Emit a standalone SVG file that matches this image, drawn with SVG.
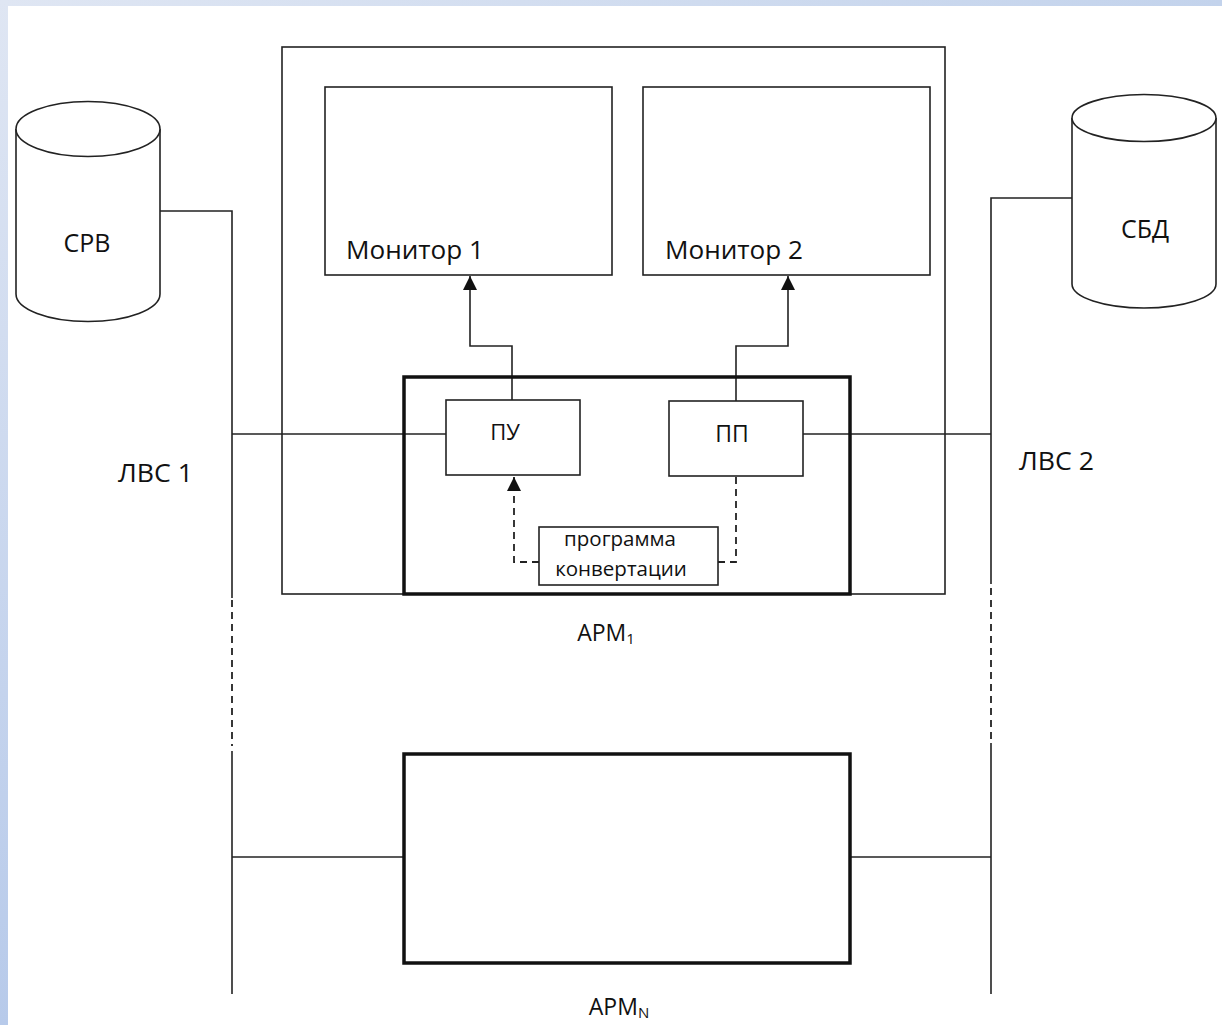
<svg xmlns="http://www.w3.org/2000/svg" width="1222" height="1025" viewBox="0 0 1222 1025">
<defs>
<linearGradient id="gl" x1="0" y1="0" x2="0" y2="1"><stop offset="0" stop-color="#dfe6f3"/><stop offset="1" stop-color="#b7caea"/></linearGradient>
<linearGradient id="gt" x1="0" y1="0" x2="1" y2="0"><stop offset="0" stop-color="#dfe6f3"/><stop offset="1" stop-color="#c3d3ec"/></linearGradient>
<marker id="ah" viewBox="0 0 10 10" refX="10" refY="5" markerWidth="14" markerHeight="14" markerUnits="userSpaceOnUse" orient="auto"><path d="M0,0 L10,5 L0,10 z" fill="#111"/></marker>
</defs>
<style>
.ln{fill:none;stroke:#222;stroke-width:1.6}
.bx{fill:#fff;stroke:#222;stroke-width:1.6}
.tk{fill:none;stroke:#111;stroke-width:3.5}
.ds{fill:none;stroke:#222;stroke-width:1.8;stroke-dasharray:7 5}
.t{font-family:"Open Sans","Noto Sans",sans-serif;fill:#111}
</style>
<rect width="1222" height="1025" fill="#fff"/>
<rect x="0" y="0" width="1222" height="6" fill="url(#gt)"/>
<rect x="0" y="0" width="8" height="1025" fill="url(#gl)"/>

<g id="connectors">
<polyline class="ln" points="160,211 232,211 232,598"/>
<line class="ds" x1="232" y1="600" x2="232" y2="746"/>
<line class="ln" x1="232" y1="751" x2="232" y2="994"/>
<polyline class="ln" points="1072,198 991,198 991,584"/>
<line class="ds" x1="991" y1="588" x2="991" y2="740"/>
<line class="ln" x1="991" y1="743" x2="991" y2="994"/>
<line class="ln" x1="232" y1="434" x2="446" y2="434"/>
<line class="ln" x1="803" y1="434" x2="991" y2="434"/>
<line class="ln" x1="232" y1="857" x2="404" y2="857"/>
<line class="ln" x1="850" y1="857" x2="991" y2="857"/>
<polyline class="ln" points="512,400 512,346 470,346 470,276" marker-end="url(#ah)"/>
<polyline class="ln" points="736,401 736,346 788,346 788,276" marker-end="url(#ah)"/>
<polyline class="ds" points="539,562 514,562 514,477" marker-end="url(#ah)"/>
<polyline class="ds" points="718,562 736,562 736,477"/>
</g>

<g id="arm1">
<rect class="ln" x="282" y="47" width="663" height="547"/>
<text class="t" x="606" y="641" font-size="23" text-anchor="middle">АРМ<tspan font-size="15" dy="3">1</tspan></text>
</g>
<g id="monitor1">
<rect class="bx" x="325" y="87" width="287" height="188"/>
<text class="t" x="346" y="259" font-size="26" textLength="138" lengthAdjust="spacingAndGlyphs">Монитор 1</text>
</g>
<g id="monitor2">
<rect class="bx" x="643" y="87" width="287" height="188"/>
<text class="t" x="665" y="259" font-size="26" textLength="138" lengthAdjust="spacingAndGlyphs">Монитор 2</text>
</g>
<g id="arm1-inner">
<rect class="tk" x="404" y="377" width="446" height="217"/>
</g>
<g id="pu">
<rect class="bx" x="446" y="400" width="134" height="75"/>
<text class="t" x="505" y="440" font-size="22" text-anchor="middle">ПУ</text>
</g>
<g id="pp">
<rect class="bx" x="669" y="401" width="134" height="75"/>
<text class="t" x="732" y="442" font-size="23" text-anchor="middle">ПП</text>
</g>
<g id="program">
<rect class="bx" x="539" y="527" width="179" height="58"/>
<text class="t" x="620" y="546" font-size="20.5" text-anchor="middle">программа</text>
<text class="t" x="621" y="576" font-size="20.5" text-anchor="middle">конвертации</text>
</g>
<g id="armN">
<rect class="tk" x="404" y="754" width="446" height="209"/>
<text class="t" x="619" y="1015" font-size="23" text-anchor="middle">АРМ<tspan font-size="15" dy="3">N</tspan></text>
</g>
<g id="srv">
<path class="bx" d="M16,129 L16,294 A72,27.5 0 0 0 160,294 L160,129"/>
<ellipse class="bx" cx="88" cy="129" rx="72" ry="27.5"/>
<text class="t" x="87" y="252" font-size="25" text-anchor="middle">СРВ</text>
</g>
<g id="sbd">
<path class="bx" d="M1072,118 L1072,284 A72,24 0 0 0 1216,284 L1216,118"/>
<ellipse class="bx" cx="1144" cy="118" rx="72" ry="23.5"/>
<text class="t" x="1145" y="238" font-size="25" text-anchor="middle">СБД</text>
</g>
<g id="labels">
<text class="t" x="118" y="482" font-size="26" textLength="75" lengthAdjust="spacingAndGlyphs">ЛВС 1</text>
<text class="t" x="1019" y="470" font-size="26" textLength="75" lengthAdjust="spacingAndGlyphs">ЛВС 2</text>
</g>
</svg>
